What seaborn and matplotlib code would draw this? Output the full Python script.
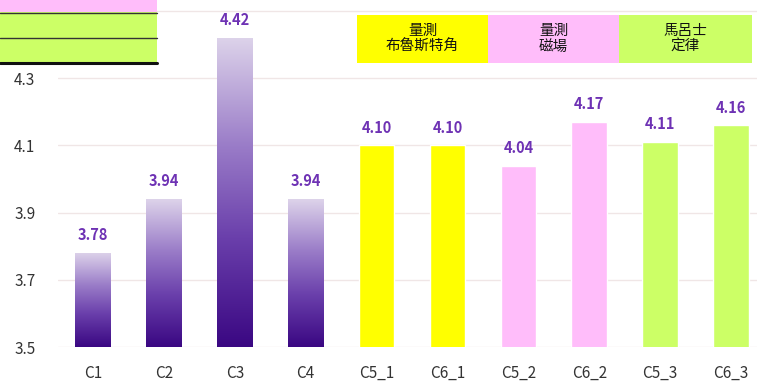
import numpy as np
import pandas as pd
import matplotlib
matplotlib.use("Agg")
import matplotlib.pyplot as plt
from matplotlib.colors import LinearSegmentedColormap
from matplotlib.patches import Rectangle
import seaborn as sns

# Data
categories = ["C1", "C2", "C3", "C4", "C5_1", "C6_1", "C5_2", "C6_2", "C5_3", "C6_3"]
values = [3.78, 3.94, 4.42, 3.94, 4.10, 4.10, 4.04, 4.17, 4.11, 4.16]
groups = ["g", "g", "g", "g", "y", "y", "p", "p", "l", "l"]
y_ticks = [3.5, 3.7, 3.9, 4.1, 4.3, 4.5]
legend_titles = ["量測\n布魯斯特角", "量測\n磁場", "馬呂士\n定律"]

# Colours
YELLOW = "#ffff00"
PINK = "#ffbdfa"
GREEN = "#ccff66"
LABEL_PURPLE = "#6e32b4"
group_colors = {"g": "#7a55b0", "y": YELLOW, "p": PINK, "l": GREEN}
legend_colors = [YELLOW, PINK, GREEN]
purple_grad = LinearSegmentedColormap.from_list(
    "purple_grad", [(0.0, "#3a0782"), (0.35, "#6a3fab"), (0.65, "#9a7cc8"), (1.0, "#ddd3ea")])

sns.set_theme(style="white")
plt.rcParams["font.family"] = ["Noto Sans CJK TC", "DejaVu Sans"]

W, H = 757, 381
fig = plt.figure(figsize=(W / 100, H / 100), dpi=100)
fig.patch.set_facecolor("white")

x_left, x_right = 57.6, 766.4
y_bottom_px = 347
Y_MIN, Y_MAX = 3.5, 4.533
ax = fig.add_axes([x_left / W, 1 - y_bottom_px / H, (x_right - x_left) / W, y_bottom_px / H])

df = pd.DataFrame({"cat": categories, "val": values, "grp": groups})
palette = [group_colors[g] for g in groups]
sns.barplot(data=df, x="cat", y="val", hue="cat", palette=palette,
            width=0.5, legend=False, ax=ax, saturation=1, zorder=2)

# Gradient fill for the first four bars
grad = np.linspace(0, 1, 256).reshape(-1, 1)
for i, patch in enumerate(ax.patches[:4]):
    x0 = patch.get_x()
    w, h = patch.get_width(), patch.get_height()
    patch.set_facecolor("none")
    patch.set_edgecolor("none")
    im = ax.imshow(grad, cmap=purple_grad, origin="lower", aspect="auto",
                   extent=[x0, x0 + w, Y_MIN, patch.get_y() + h], zorder=2)
    im.set_clip_path(patch)
ax.set_xlim(-0.5, 9.5)
ax.set_ylim(Y_MIN, Y_MAX)

# Value labels
for i, v in enumerate(values):
    ax.annotate(f"{v:.2f}", (i, v), xytext=(0, 7), textcoords="offset points",
                ha="center", va="bottom", color=LABEL_PURPLE,
                fontsize=10.5, fontweight="bold")

ax.set_yticks(y_ticks)
ax.set_yticklabels([f"{t:.1f}" for t in y_ticks])
ax.yaxis.grid(True, color="#f0e6e6", linewidth=1, zorder=0)
ax.xaxis.grid(False)
ax.set_axisbelow(True)
for s in ax.spines.values():
    s.set_visible(False)
ax.set_xlabel("")
ax.set_ylabel("")
ax.tick_params(axis="x", length=0, pad=13, labelsize=11, labelcolor="#333333")
ax.tick_params(axis="y", length=0, pad=16, labelsize=11, labelcolor="#333333")

# Legend boxes across the top
def fx(px):
    return px / W

def fy(py):
    return 1 - py / H

box_edges = [357, 488, 619, 752]
for k in range(3):
    x0, x1 = box_edges[k], box_edges[k + 1]
    fig.patches.append(Rectangle((fx(x0), fy(63)), fx(x1 - x0), (63 - 15) / H,
                                 transform=fig.transFigure, facecolor=legend_colors[k],
                                 edgecolor="none", zorder=3))
    fig.text(fx((x0 + x1) / 2), fy(39), legend_titles[k], ha="center", va="center",
             fontsize=10.5, color="#111111", linespacing=1.1, zorder=4)

# Table fragment in the upper-left corner
fig.patches.append(Rectangle((0, fy(12)), fx(157), 12 / H, transform=fig.transFigure,
                             facecolor=PINK, edgecolor="none", zorder=3))
fig.patches.append(Rectangle((0, fy(63)), fx(157), 51 / H, transform=fig.transFigure,
                             facecolor=GREEN, edgecolor="none", zorder=3))
for py, lw, col in [(12.5, 1.0, "#333333"), (38, 1.0, "#333333"), (63, 2.2, "#111111")]:
    fig.add_artist(plt.Line2D([0, fx(157)], [fy(py), fy(py)], transform=fig.transFigure,
                              color=col, linewidth=lw, zorder=5))

fig.savefig("out.png", dpi=100, facecolor="white")
